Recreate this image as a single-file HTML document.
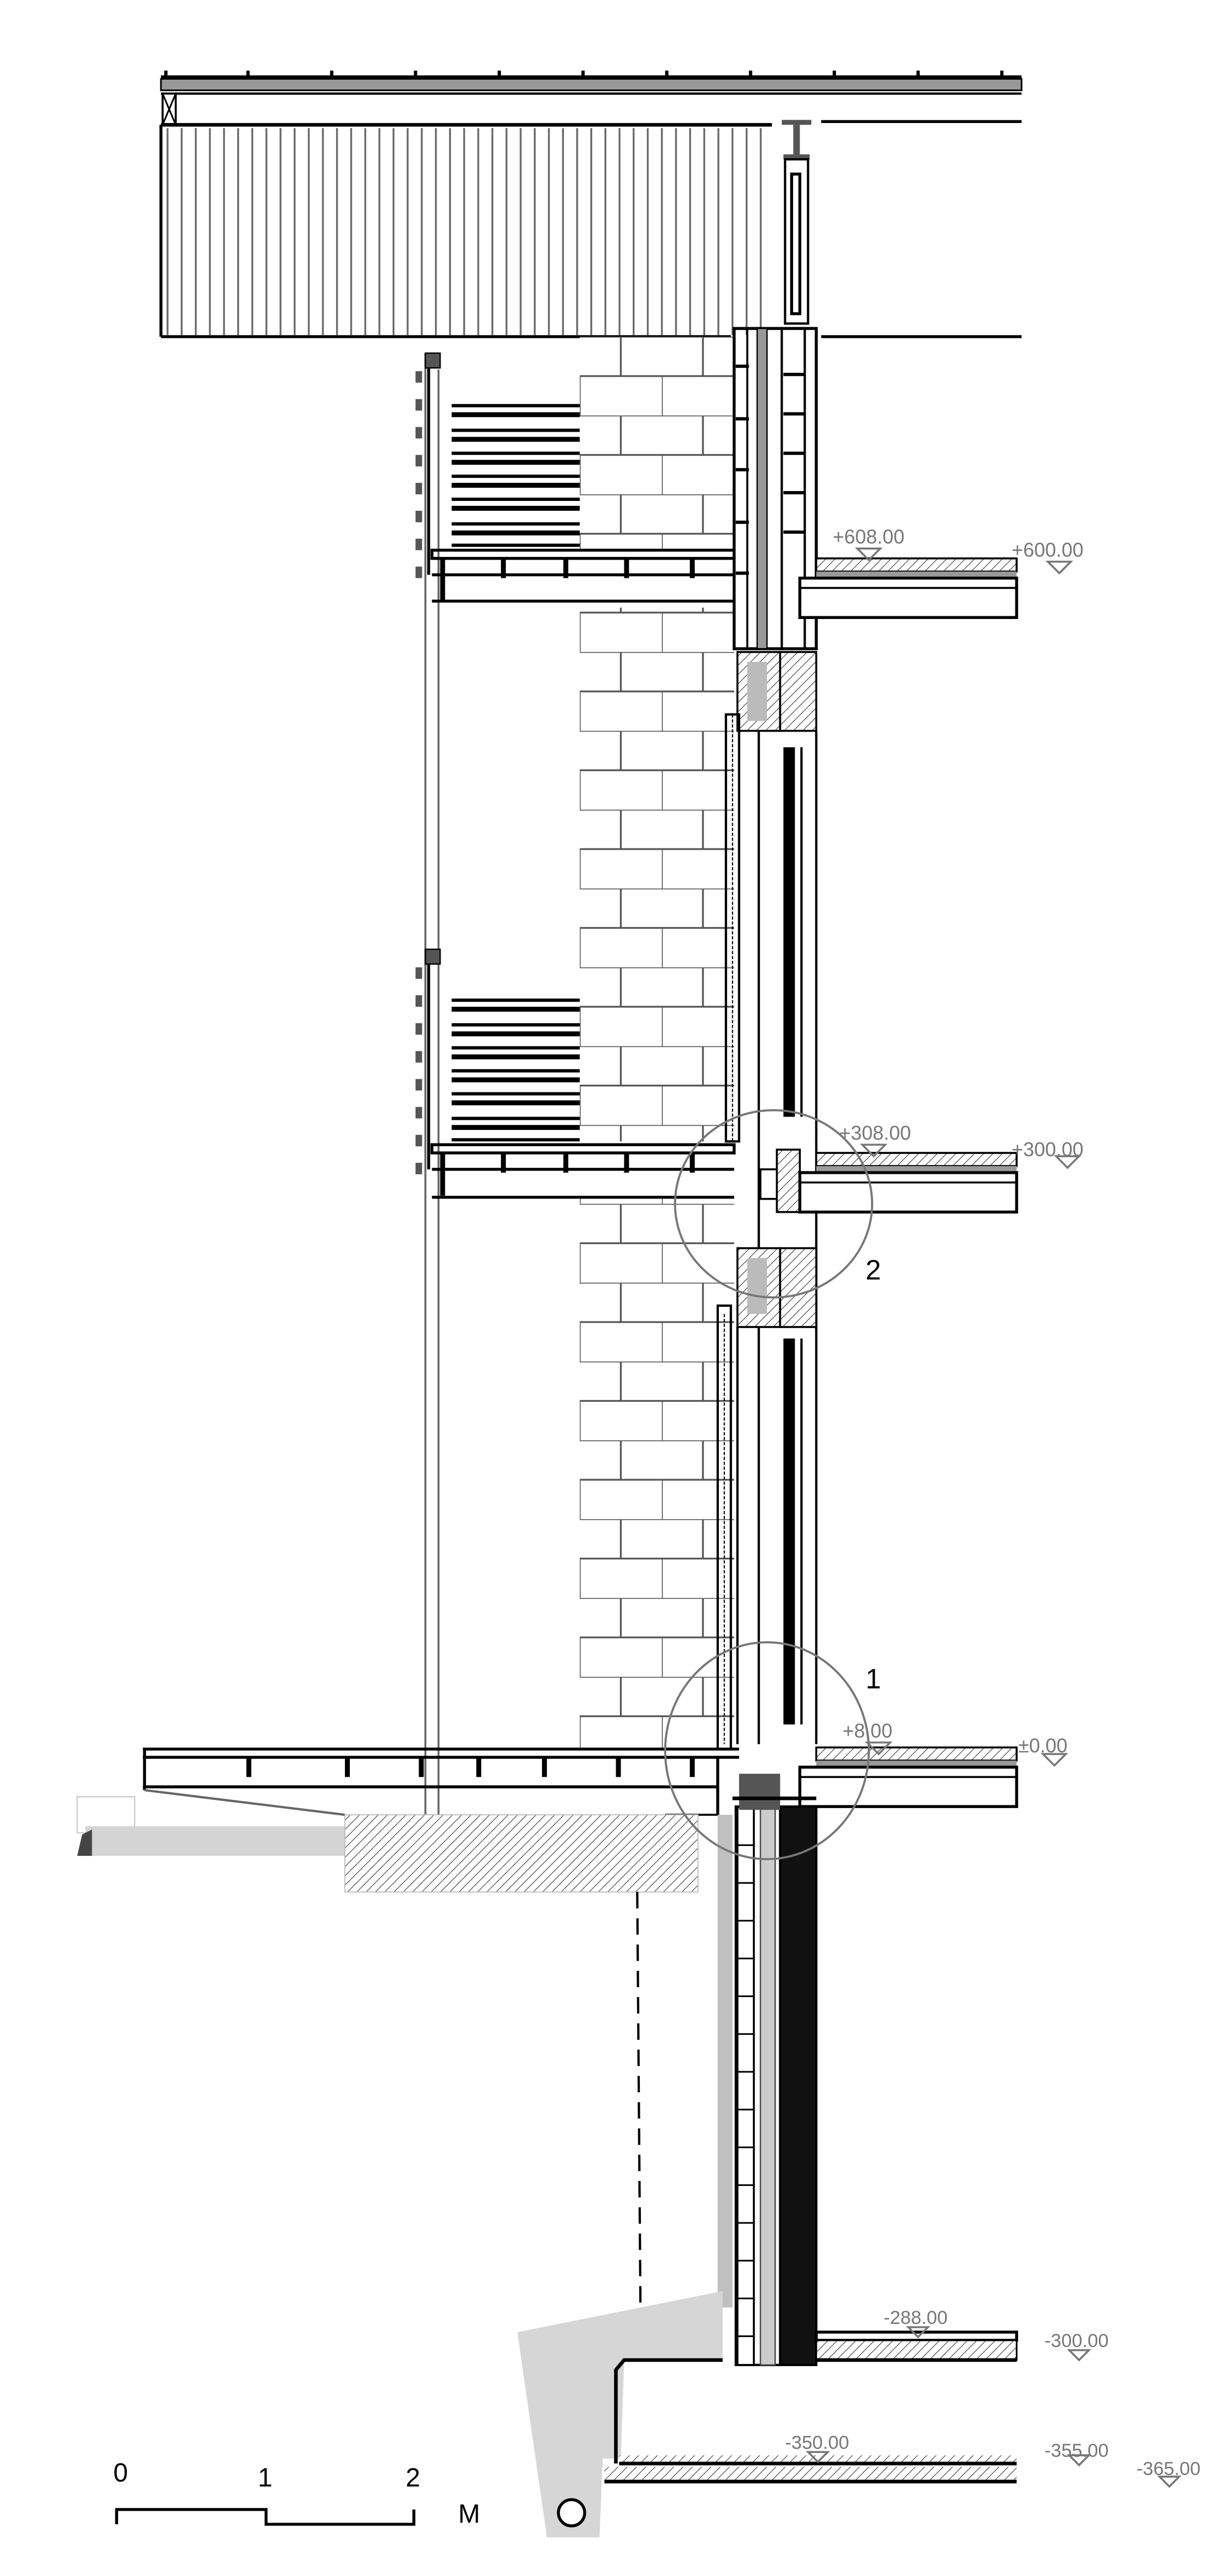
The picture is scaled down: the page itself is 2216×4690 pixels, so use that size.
<!DOCTYPE html>
<html><head><meta charset="utf-8"><style>
html,body{margin:0;padding:0;background:#fff;width:2216px;height:4690px;overflow:hidden}
svg{display:block}
text{font-family:"Liberation Sans",sans-serif}
</style></head><body>
<svg width="2216" height="4690" viewBox="0 0 741 1568.5" preserveAspectRatio="none" xmlns="http://www.w3.org/2000/svg">
<defs>
<pattern id="brick" width="50" height="48" patternUnits="userSpaceOnUse" x="353" y="205">
<rect width="50" height="48" fill="#fff"/>
<line x1="0" y1="0" x2="50" y2="0" stroke="#555" stroke-width="1.1"/>
<line x1="0" y1="24" x2="50" y2="24" stroke="#555" stroke-width="1.1"/>
<line x1="25" y1="0" x2="25" y2="24" stroke="#555" stroke-width="1.1"/>
<line x1="0" y1="24" x2="0" y2="48" stroke="#555" stroke-width="1.1"/>
</pattern>
<pattern id="hatch" width="4" height="4" patternUnits="userSpaceOnUse" patternTransform="rotate(45)">
<rect width="4" height="4" fill="#fff"/><line x1="0" y1="0" x2="0" y2="4" stroke="#444" stroke-width="0.8"/>
</pattern>
<pattern id="slat" width="8.6" height="10" patternUnits="userSpaceOnUse" x="98">
<line x1="4" y1="0" x2="4" y2="10" stroke="#666" stroke-width="1.1"/>
</pattern>
<pattern id="blk" width="10" height="23" patternUnits="userSpaceOnUse" y="1100">
<rect width="10" height="23" fill="#fff"/><line x1="0" y1="0" x2="10" y2="0" stroke="#000" stroke-width="2"/>
</pattern>
</defs>

<!-- ROOF -->
<g stroke="#000">
<line x1="98" y1="47" x2="622" y2="47" stroke-width="2.2"/>
<rect x="98" y="48" width="524" height="7" fill="#999" stroke-width="1"/>
<line x1="98" y1="57" x2="622" y2="57" stroke-width="1.4"/>
<rect x="99" y="57" width="8" height="19" fill="#fff" stroke-width="1.2"/>
<line x1="99" y1="57" x2="107" y2="76" stroke-width="1"/><line x1="107" y1="57" x2="99" y2="76" stroke-width="1"/>
<line x1="98" y1="76" x2="470" y2="76" stroke-width="2.2"/>
<line x1="500" y1="74" x2="622" y2="74" stroke-width="1.8"/>
</g>
<g fill="#000">
<rect x="100" y="43" width="2" height="4"/><rect x="150" y="43" width="2" height="4"/><rect x="201" y="43" width="2" height="4"/><rect x="252" y="43" width="2" height="4"/><rect x="303" y="43" width="2" height="4"/><rect x="354" y="43" width="2" height="4"/><rect x="405" y="43" width="2" height="4"/><rect x="456" y="43" width="2" height="4"/><rect x="507" y="43" width="2" height="4"/><rect x="558" y="43" width="2" height="4"/><rect x="609" y="43" width="2" height="4"/>
</g>
<rect x="100" y="78" width="370" height="126" fill="url(#slat)"/>
<line x1="98" y1="76" x2="98" y2="205" stroke="#000" stroke-width="1.8"/>
<line x1="98" y1="205" x2="445" y2="205" stroke="#000" stroke-width="1.8"/>
<line x1="500" y1="205" x2="622" y2="205" stroke="#000" stroke-width="1.8"/>
<!-- column -->
<rect x="476" y="73" width="18" height="3" fill="#555"/>
<rect x="483" y="76" width="4" height="18" fill="#555"/>
<rect x="477" y="94" width="16" height="3" fill="#555"/>
<rect x="478" y="97" width="14" height="100" fill="#fff" stroke="#000" stroke-width="1.4"/>
<rect x="482" y="106" width="5" height="85" fill="#fff" stroke="#000" stroke-width="1.8"/>

<!-- BRICK WALL -->
<rect x="353" y="205" width="94" height="130" fill="url(#brick)"/>
<rect x="353" y="370" width="94" height="325" fill="url(#brick)"/>
<rect x="353" y="730" width="94" height="335" fill="url(#brick)"/>

<!-- RIGHT WALL ASSEMBLY upper -->
<g stroke="#000" fill="none">
<rect x="447" y="200" width="50" height="195" stroke-width="1.8"/>
<line x1="455" y1="200" x2="455" y2="395" stroke-width="1.2"/>
<rect x="461" y="200" width="6" height="195" fill="#999" stroke-width="0.8"/>
<line x1="476" y1="200" x2="476" y2="395" stroke-width="1.4"/>
<line x1="490" y1="200" x2="490" y2="395" stroke-width="1.4"/>
</g>
<g fill="#000">
<rect x="448" y="222" width="8" height="2"/><rect x="448" y="254" width="8" height="2"/><rect x="448" y="285" width="8" height="2"/><rect x="448" y="317" width="8" height="2"/><rect x="448" y="348" width="8" height="2"/>
<rect x="477" y="227" width="13" height="2"/><rect x="477" y="251" width="13" height="2"/><rect x="477" y="275" width="13" height="2"/><rect x="477" y="299" width="13" height="2"/><rect x="477" y="323" width="13" height="2"/>
</g>
<!-- lintel upper -->
<rect x="449" y="397" width="26" height="48" fill="url(#hatch)" stroke="#000" stroke-width="1.2"/>
<rect x="455" y="403" width="12" height="36" fill="#bbb"/>
<rect x="475" y="397" width="22" height="48" fill="url(#hatch)" stroke="#000" stroke-width="1.2"/>
<!-- window upper -->
<g stroke="#000" fill="none">
<rect x="442" y="435" width="8" height="260" stroke-width="1.4"/>
<line x1="446" y1="435" x2="446" y2="695" stroke-width="0.7" stroke-dasharray="2,1"/>
<line x1="462" y1="445" x2="462" y2="695" stroke-width="1.4"/>
<line x1="497" y1="445" x2="497" y2="695" stroke-width="1.4"/>
<line x1="488" y1="455" x2="488" y2="680" stroke-width="1.4"/>
</g>
<rect x="477" y="455" width="7" height="225" fill="#000"/>

<!-- mid lintel -->
<g stroke="#000" fill="none">
<line x1="462" y1="695" x2="462" y2="760" stroke-width="1.4"/>
<line x1="497" y1="695" x2="497" y2="810" stroke-width="1.4"/>
</g>
<rect x="463" y="712" width="12" height="18" fill="#fff" stroke="#000" stroke-width="1.2"/>
<rect x="473" y="700" width="14" height="38" fill="url(#hatch)" stroke="#000" stroke-width="1.2"/>
<rect x="449" y="760" width="26" height="48" fill="url(#hatch)" stroke="#000" stroke-width="1.2"/>
<rect x="455" y="766" width="12" height="34" fill="#bbb"/>
<rect x="475" y="760" width="22" height="48" fill="url(#hatch)" stroke="#000" stroke-width="1.2"/>
<!-- window lower -->
<g stroke="#000" fill="none">
<rect x="437" y="795" width="8" height="270" stroke-width="1.4"/>
<line x1="441" y1="800" x2="441" y2="1062" stroke-width="0.7" stroke-dasharray="2,1"/>
<line x1="449" y1="808" x2="449" y2="1062" stroke-width="1.4"/>
<line x1="462" y1="808" x2="462" y2="1062" stroke-width="1.4"/>
<line x1="497" y1="808" x2="497" y2="1062" stroke-width="1.4"/>
<line x1="488" y1="815" x2="488" y2="1050" stroke-width="1.4"/>
</g>
<rect x="477" y="815" width="7" height="235" fill="#000"/>

<!-- BALCONIES -->
<line x1="259" y1="215" x2="259" y2="1105" stroke="#666" stroke-width="1.2"/>
<line x1="267" y1="225" x2="267" y2="1105" stroke="#666" stroke-width="1.2"/>
<rect x="259" y="215" width="9" height="9" fill="#555" stroke="#000" stroke-width="0.8"/>
<rect x="259" y="578" width="9" height="9" fill="#555" stroke="#000" stroke-width="0.8"/>
<line x1="261" y1="224" x2="261" y2="350" stroke="#000" stroke-width="1.8"/>
<line x1="261" y1="587" x2="261" y2="712" stroke="#000" stroke-width="1.8"/>
<g fill="#555">
<rect x="253" y="226" width="4" height="7"/><rect x="253" y="243" width="4" height="7"/><rect x="253" y="260" width="4" height="7"/><rect x="253" y="277" width="4" height="7"/><rect x="253" y="294" width="4" height="7"/><rect x="253" y="311" width="4" height="7"/><rect x="253" y="328" width="4" height="7"/><rect x="253" y="345" width="4" height="7"/>
<rect x="253" y="589" width="4" height="7"/><rect x="253" y="606" width="4" height="7"/><rect x="253" y="623" width="4" height="7"/><rect x="253" y="640" width="4" height="7"/><rect x="253" y="657" width="4" height="7"/><rect x="253" y="674" width="4" height="7"/><rect x="253" y="691" width="4" height="7"/><rect x="253" y="708" width="4" height="7"/>
</g>
<g fill="#000">
<rect x="275" y="246" width="78" height="2"/><rect x="275" y="251" width="78" height="3"/><rect x="275" y="261" width="78" height="2"/><rect x="275" y="266" width="78" height="3"/><rect x="275" y="275" width="78" height="2"/><rect x="275" y="280" width="78" height="3"/><rect x="275" y="289" width="78" height="2"/><rect x="275" y="294" width="78" height="3"/><rect x="275" y="303" width="78" height="2"/><rect x="275" y="308" width="78" height="3"/><rect x="275" y="318" width="78" height="2"/><rect x="275" y="323" width="78" height="3"/><rect x="275" y="331" width="78" height="2"/>
<rect x="275" y="608" width="78" height="2"/><rect x="275" y="613" width="78" height="3"/><rect x="275" y="623" width="78" height="2"/><rect x="275" y="628" width="78" height="3"/><rect x="275" y="637" width="78" height="2"/><rect x="275" y="642" width="78" height="3"/><rect x="275" y="651" width="78" height="2"/><rect x="275" y="656" width="78" height="3"/><rect x="275" y="665" width="78" height="2"/><rect x="275" y="670" width="78" height="3"/><rect x="275" y="680" width="78" height="2"/><rect x="275" y="685" width="78" height="3"/><rect x="275" y="693" width="78" height="2"/>
</g>
<g stroke="#000" fill="none" stroke-width="1.8">
<rect x="263" y="335" width="184" height="5"/><line x1="263" y1="350" x2="447" y2="350"/><line x1="263" y1="366" x2="447" y2="366"/>
<rect x="263" y="697" width="184" height="5"/><line x1="263" y1="712" x2="447" y2="712"/><line x1="263" y1="729" x2="447" y2="729"/>
</g>
<g fill="#000">
<rect x="268" y="340" width="3" height="26"/><rect x="305" y="340" width="3" height="12"/><rect x="343" y="340" width="3" height="12"/><rect x="380" y="340" width="3" height="12"/><rect x="420" y="340" width="3" height="12"/>
<rect x="268" y="702" width="3" height="26"/><rect x="305" y="702" width="3" height="12"/><rect x="343" y="702" width="3" height="12"/><rect x="380" y="702" width="3" height="12"/><rect x="420" y="702" width="3" height="12"/>
</g>

<!-- RIGHT FLOOR SLABS -->
<g>
<rect x="497" y="340" width="122" height="8" fill="url(#hatch)" stroke="#000" stroke-width="1.2"/>
<rect x="497" y="348" width="122" height="4" fill="#999"/>
<rect x="487" y="352" width="132" height="24" fill="#fff" stroke="#000" stroke-width="1.8"/>
<line x1="487" y1="358" x2="619" y2="358" stroke="#000" stroke-width="1.2"/>
<rect x="497" y="702" width="122" height="8" fill="url(#hatch)" stroke="#000" stroke-width="1.2"/>
<rect x="497" y="710" width="122" height="4" fill="#999"/>
<rect x="487" y="714" width="132" height="24" fill="#fff" stroke="#000" stroke-width="1.8"/>
<line x1="487" y1="720" x2="619" y2="720" stroke="#000" stroke-width="1.2"/>
<rect x="497" y="1064" width="122" height="8" fill="url(#hatch)" stroke="#000" stroke-width="1.2"/>
<rect x="497" y="1072" width="122" height="4" fill="#999"/>
<rect x="487" y="1076" width="132" height="24" fill="#fff" stroke="#000" stroke-width="1.8"/>
<line x1="487" y1="1082" x2="619" y2="1082" stroke="#000" stroke-width="1.2"/>
</g>

<!-- GROUND DECK -->
<g stroke="#000" fill="none" stroke-width="1.8">
<line x1="87" y1="1065" x2="450" y2="1065"/><line x1="87" y1="1070" x2="450" y2="1070"/>
<line x1="87" y1="1088" x2="437" y2="1088"/>
<line x1="88" y1="1065" x2="88" y2="1090"/>
<line x1="437" y1="1070" x2="437" y2="1105"/><line x1="437" y1="1105" x2="405" y2="1105" stroke-width="1.2"/>
</g>
<g fill="#000">
<rect x="150" y="1070" width="3" height="12"/><rect x="210" y="1070" width="3" height="12"/><rect x="255" y="1070" width="3" height="12"/><rect x="290" y="1070" width="3" height="12"/><rect x="330" y="1070" width="3" height="12"/><rect x="375" y="1070" width="3" height="12"/><rect x="420" y="1070" width="3" height="12"/>
</g>
<line x1="88" y1="1090" x2="210" y2="1105" stroke="#666" stroke-width="1.4"/>
<rect x="47" y="1094" width="35" height="22" fill="none" stroke="#ccc" stroke-width="0.8"/>
<rect x="52" y="1112" width="158" height="18" fill="#d4d4d4"/>
<path d="M47 1130 L50 1117 L56 1114 L56 1130 Z" fill="#444"/>
<rect x="210" y="1105" width="215" height="47" fill="url(#hatch)" stroke="#bbb" stroke-width="0.6"/>
<line x1="388" y1="1152" x2="390" y2="1410" stroke="#000" stroke-width="1.4" stroke-dasharray="10,6"/>

<!-- BASEMENT WALL -->
<rect x="437" y="1105" width="9" height="300" fill="#c0c0c0"/>
<rect x="448" y="1100" width="27" height="340" fill="#fff" stroke="#000" stroke-width="1.4"/>
<rect x="449" y="1100" width="10" height="340" fill="url(#blk)" stroke="#000" stroke-width="1.2"/>
<rect x="463" y="1100" width="9" height="340" fill="#ccc" stroke="#444" stroke-width="0.8"/>
<rect x="475" y="1100" width="22" height="340" fill="#111" stroke="#000" stroke-width="1.4"/>
<rect x="450" y="1080" width="25" height="22" fill="#555"/>
<line x1="446" y1="1095" x2="497" y2="1095" stroke="#000" stroke-width="2.2"/>

<!-- FOOTING -->
<path d="M315 1420 L440 1395 L440 1437 L380 1437 L378 1497 L367 1497 L365 1545 L333 1545 Z" fill="#d6d6d6"/>
<circle cx="348" cy="1530" r="8" fill="#fff" stroke="#000" stroke-width="1.8"/>
<path d="M375 1500 L375 1443 L380 1437 L440 1437" fill="none" stroke="#000" stroke-width="2.2"/>
<rect x="497" y="1420" width="122" height="5" fill="#fff" stroke="#000" stroke-width="1.8"/>
<rect x="497" y="1425" width="122" height="12" fill="url(#hatch)" stroke="#000" stroke-width="1"/>
<line x1="497" y1="1437" x2="619" y2="1437" stroke="#000" stroke-width="2.2"/>
<rect x="377" y="1495" width="242" height="4" fill="url(#hatch)"/>
<line x1="377" y1="1500" x2="619" y2="1500" stroke="#000" stroke-width="2.2"/>
<rect x="368" y="1502" width="251" height="8" fill="url(#hatch)"/>
<line x1="368" y1="1511" x2="619" y2="1511" stroke="#000" stroke-width="2.2"/>

<!-- DETAIL CIRCLES -->
<ellipse cx="471" cy="733" rx="60" ry="57" fill="none" stroke="#777" stroke-width="1.3"/>
<ellipse cx="467" cy="1066" rx="62" ry="66" fill="none" stroke="#777" stroke-width="1.3"/>
<text x="527" y="779" font-size="17" fill="#000">2</text>
<text x="527" y="1028" font-size="17" fill="#000">1</text>

<!-- LEVEL LABELS -->
<g fill="#777" font-size="12">
<text x="507" y="331">+608.00</text>
<text x="616" y="339">+600.00</text>
<text x="511" y="694">+308.00</text>
<text x="616" y="704">+300.00</text>
<text x="513" y="1058">+8.00</text>
<text x="620" y="1067">±0.00</text>
<text x="538" y="1415" font-size="11.5">-288.00</text>
<text x="636" y="1429" font-size="11.5">-300.00</text>
<text x="478" y="1491" font-size="11.5">-350.00</text>
<text x="636" y="1496" font-size="11.5">-355.00</text>
<text x="692" y="1507" font-size="11.5">-365.00</text>
</g>
<g fill="none" stroke="#777" stroke-width="1.2">
<path d="M522 334 L536 334 L529 341 Z"/><path d="M638 342 L652 342 L645 349 Z"/>
<path d="M525 697 L539 697 L532 704 Z"/><path d="M643 704 L657 704 L650 711 Z"/>
<path d="M528 1061 L542 1061 L535 1068 Z"/><path d="M635 1068 L649 1068 L642 1075 Z"/>
<path d="M553 1417 L565 1417 L559 1423 Z"/><path d="M651 1431 L663 1431 L657 1437 Z"/>
<path d="M492 1493 L504 1493 L498 1499 Z"/><path d="M651 1495 L663 1495 L657 1501 Z"/>
<path d="M706 1508 L718 1508 L712 1514 Z"/>
</g>

<!-- SCALE BAR -->
<g font-size="16" fill="#000">
<text x="69" y="1511">0</text><text x="157" y="1514">1</text><text x="247" y="1514">2</text><text x="279" y="1536">M</text>
</g>
<path d="M71 1537 L71 1528 L162 1528 L162 1537 L252 1537 L252 1528" fill="none" stroke="#000" stroke-width="1.8"/>
</svg>
</body></html>
